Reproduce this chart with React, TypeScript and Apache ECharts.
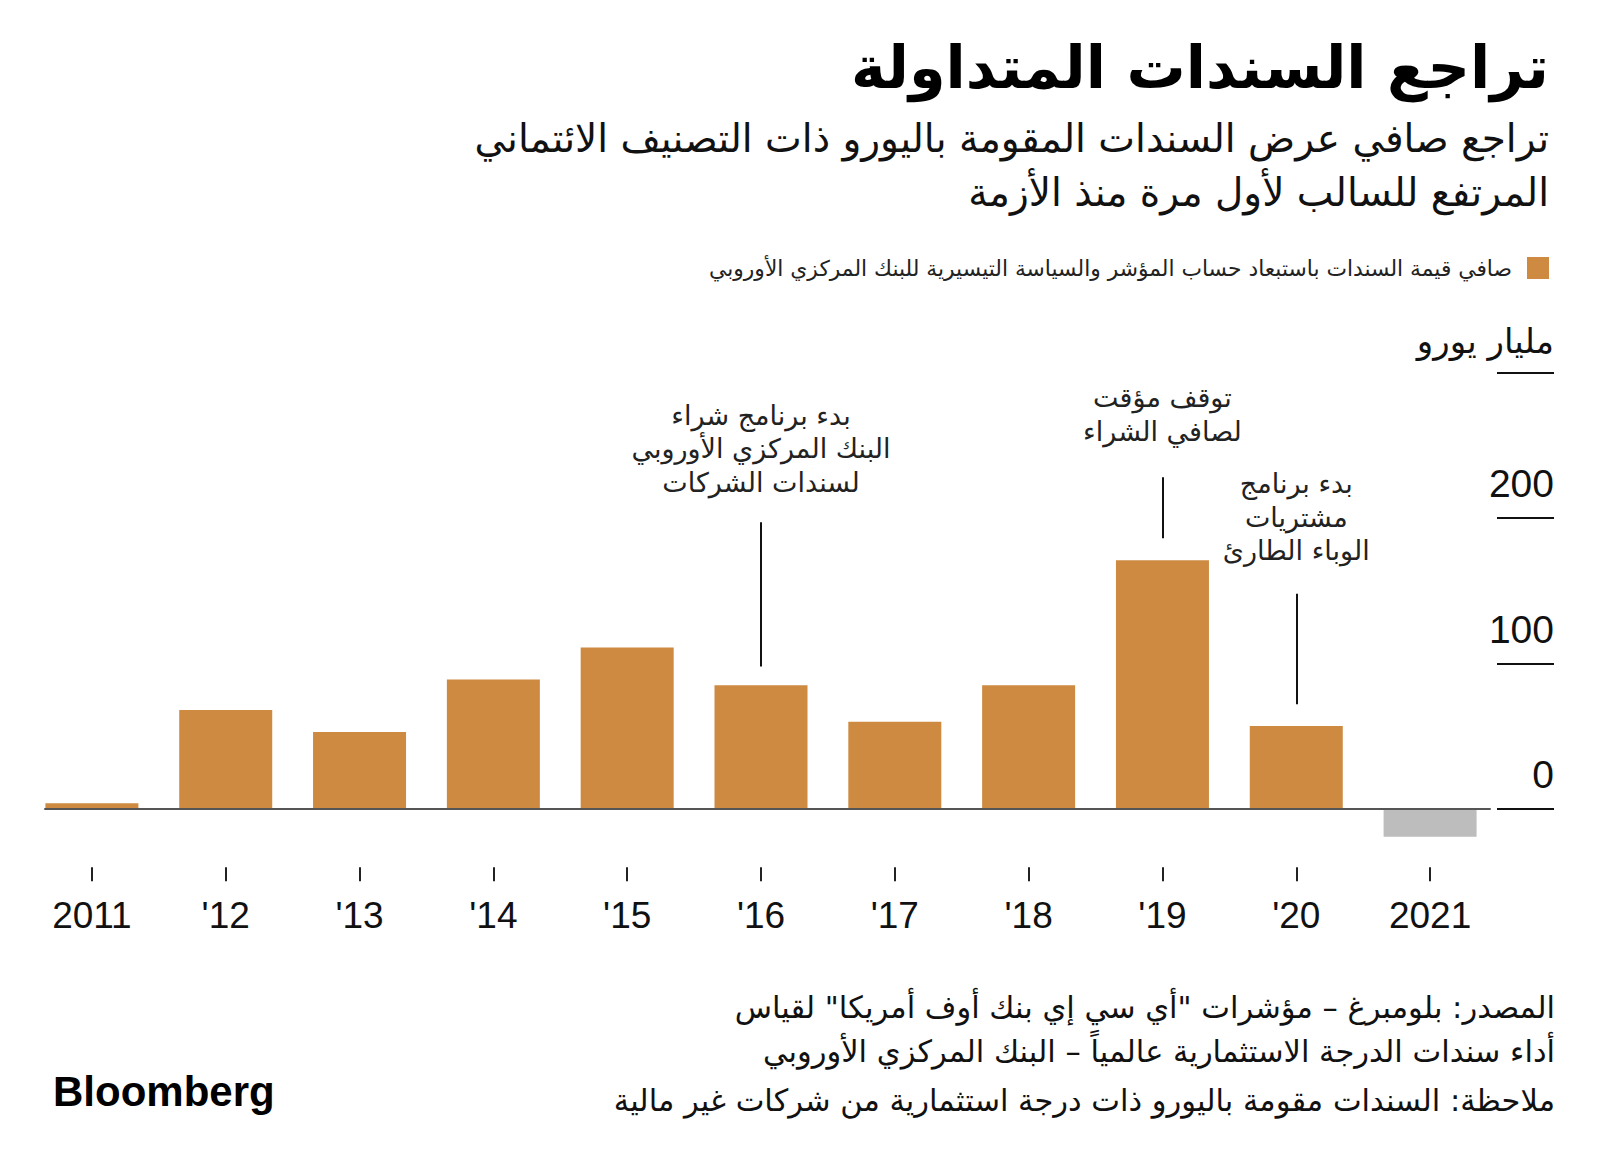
import React, { useEffect, useRef } from "react";
import * as echarts from "echarts";

const years = ["2011", "'12", "'13", "'14", "'15", "'16", "'17", "'18", "'19", "'20", "2021"];
const netSupply = [4, 68, 53, 89, 111, 85, 60, 85, 171, 57, -19];
const yTickValues = [0, 100, 200];
const unitLabel = "مليار يورو";
const seriesName = "صافي قيمة السندات باستبعاد حساب المؤشر والسياسة التيسيرية للبنك المركزي الأوروبي";

const annotations = [
  { year: "'16", lines: ["بدء برنامج شراء", "البنك المركزي الأوروبي", "لسندات الشركات"], from: 98, to: 197, textAt: 213 },
  { year: "'19", lines: ["توقف مؤقت", "لصافي الشراء"], from: 186, to: 228, textAt: 248 },
  { year: "'20", lines: ["بدء برنامج", "مشتريات", "الوباء الطارئ"], from: 72, to: 148, textAt: 166 },
];

const title = "تراجع السندات المتداولة";
const subtitleLines = [
  "تراجع صافي عرض السندات المقومة باليورو ذات التصنيف الائتماني",
  "المرتفع للسالب لأول مرة منذ الأزمة",
];
const footerLines = [
  "المصدر: بلومبرغ – مؤشرات \"أي سي إي بنك أوف أمريكا\" لقياس",
  "أداء سندات الدرجة الاستثمارية عالمياً – البنك المركزي الأوروبي",
  "ملاحظة: السندات مقومة باليورو ذات درجة استثمارية من شركات غير مالية",
];

const ORANGE = "#CD8A40";
const GRAY = "#BDBDBD";
const AR = "'DejaVu Sans', 'Noto Sans', sans-serif";
const NUM = "'Liberation Sans Narrow', 'Liberation Sans', Arial, sans-serif";

export default function App() {
  const ref = useRef<HTMLDivElement>(null);
  useEffect(() => {
    if (!ref.current) return;
    const chart = echarts.init(ref.current, null, { renderer: "svg" });
    const Y_MIN = -40;
    const Y_MAX = 300;
    const zeroY = 809;
    const pxPerUnit = 1.455;
    const top = zeroY - Y_MAX * pxPerUnit;
    const bottom = zeroY - Y_MIN * pxPerUnit;

    const option: any = {
      animation: false,
      backgroundColor: "#ffffff",
      legend: {
        data: [seriesName],
        right: 51,
        top: 257,
        padding: 0,
        itemWidth: 22,
        itemHeight: 22,
        icon: "rect",
        align: "right",
        textStyle: { fontSize: 21.8, fontFamily: AR, color: "#222", padding: [0, 10, 0, 0] },
      },
      grid: [
        { left: 25, width: 1472, top: top, height: bottom - top },
        { left: 1497, width: 57, top: top, height: zeroY - top },
        { left: 45, width: 1445, top: top, height: bottom - top },
      ],
      xAxis: [
        {
          type: "category",
          gridIndex: 0,
          data: years,
          axisLine: { show: false },
          axisTick: { show: false },
          axisLabel: { show: false },
        },
        {
          type: "category",
          gridIndex: 0,
          data: years,
          position: "bottom",
          axisLine: { show: false, onZero: false },
          axisTick: { show: true, alignWithLabel: true, length: 14, lineStyle: { color: "#222", width: 2 } },
          axisLabel: { show: true, margin: 30, fontSize: 37, fontFamily: NUM, color: "#111" },
        },
        {
          type: "value",
          gridIndex: 1,
          show: false,
          min: 0,
          max: 1,
        },
        {
          type: "value",
          gridIndex: 2,
          min: 0,
          max: 1,
          axisLine: { show: true, onZero: true, lineStyle: { color: "#555", width: 2 } },
          axisTick: { show: false },
          axisLabel: { show: false },
          splitLine: { show: false },
          z: 5,
        },
      ],
      yAxis: [
        {
          type: "value",
          gridIndex: 0,
          min: Y_MIN,
          max: Y_MAX,
          show: false,
        },
        {
          type: "value",
          gridIndex: 1,
          min: 0,
          max: Y_MAX,
          interval: 100,
          position: "right",
          axisLine: { show: false },
          axisTick: { show: false },
          splitLine: { show: true, lineStyle: { color: "#111", width: 2 } },
          axisLabel: {
            inside: true,
            align: "right",
            verticalAlign: "bottom",
            margin: 0,
            padding: [0, 0, 15, 0],
            fontSize: 39,
            fontFamily: NUM,
            color: "#111",
            formatter: (v: number) => (v === Y_MAX ? "{u|" + unitLabel + "}" : yTickValues.includes(v) ? String(v) : ""),
            rich: { u: { fontSize: 34, fontFamily: AR, color: "#111", padding: [0, 0, 0, 0] } },
          },
        },
        {
          type: "value",
          gridIndex: 2,
          min: Y_MIN,
          max: Y_MAX,
          axisLine: { show: false },
          axisTick: { show: false },
          axisLabel: { show: false },
          splitLine: { show: false },
        },
      ],
      series: [
        {
          name: seriesName,
          type: "bar",
          xAxisIndex: 0,
          yAxisIndex: 0,
          barWidth: 93,
          itemStyle: { color: ORANGE },
          data: netSupply.map((v) => (v < 0 ? { value: v, itemStyle: { color: GRAY } } : v)),
          markLine: {
            silent: true,
            symbol: ["none", "none"],
            label: { show: false },
            lineStyle: { color: "#111", width: 2, type: "solid" },
            data: annotations.map((a) => [{ coord: [a.year, a.from] }, { coord: [a.year, a.to] }]),
          },
          markPoint: {
            silent: true,
            symbol: "circle",
            symbolSize: 0,
            data: annotations.map((a) => ({
              coord: [a.year, a.textAt],
              label: {
                show: true,
                position: "top",
                distance: 0,
                formatter: a.lines.join("\n"),
                fontSize: 27,
                lineHeight: 33.5,
                fontFamily: AR,
                color: "#222",
                align: "center",
              },
            })),
          },
        },
      ],
      graphic: [
        {
          type: "text",
          x: 1549,
          y: 67,
          style: {
            text: title,
            fontSize: 59,
            fontWeight: "bold",
            fontFamily: AR,
            fill: "#000",
            textAlign: "right",
            textVerticalAlign: "middle",
            align: "right",
            verticalAlign: "middle",
          },
        },
        ...subtitleLines.map((t, i) => ({
          type: "text",
          x: 1549,
          y: 138 + i * 54,
          style: {
            text: t,
            fontSize: 39,
            fontFamily: AR,
            fill: "#111",
            textAlign: "right",
            textVerticalAlign: "middle",
            align: "right",
            verticalAlign: "middle",
          },
        })),
        ...footerLines.map((t, i) => ({
          type: "text",
          x: 1555,
          y: [1007, 1051, 1100][i],
          style: {
            text: t,
            fontSize: 30.5,
            fontFamily: AR,
            fill: "#111",
            textAlign: "right",
            textVerticalAlign: "middle",
            align: "right",
            verticalAlign: "middle",
          },
        })),
        {
          type: "text",
          x: 53,
          y: 1091,
          style: {
            text: "Bloomberg",
            fontSize: 42,
            fontWeight: "bold",
            fontFamily: "'Liberation Sans', Arial, sans-serif",
            fill: "#000",
            textAlign: "left",
            textVerticalAlign: "middle",
            align: "left",
            verticalAlign: "middle",
          },
        },
      ],
    };
    chart.setOption(option);
    return () => chart.dispose();
  }, []);
  return (
    <div
      ref={ref}
      style={{ position: "absolute", left: 0, top: 0, width: 1600, height: 1169, background: "#fff" }}
    />
  );
}
